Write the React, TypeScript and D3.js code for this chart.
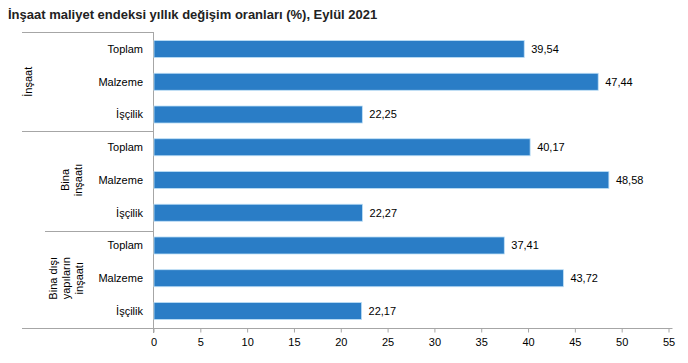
import React, { useRef, useEffect } from 'react';
import * as d3 from 'd3';

const categories = ['Toplam', 'Malzeme', 'İşçilik'];
const groups = [['İnşaat'], ['Bina', 'inşaatı'], ['Bina dışı', 'yapıların', 'inşaatı']];
const insaat = [39.54, 47.44, 22.25];
const binaInsaati = [40.17, 48.58, 22.27];
const binaDisi = [37.41, 43.72, 22.17];
const xTicks = [0, 5, 10, 15, 20, 25, 30, 35, 40, 45, 50, 55];

const App = () => {
    const ref = useRef(null);

    useEffect(() => {
        const svg = d3.select(ref.current);
        svg.selectAll('*').remove();

        const left = 153, right = 668, top = 32, bottom = 328;
        const font = 'Liberation Sans, Arial, sans-serif';

        const rows = [insaat, binaInsaati, binaDisi].flatMap((vals, g) =>
            vals.map((v, i) => ({ key: g + '-' + i, g, label: categories[i], value: v })));

        const x = d3.scaleLinear().domain([0, 55]).range([left, right]);
        const y = d3.scaleBand().domain(rows.map(d => d.key)).range([top, bottom]).paddingInner(0.48).paddingOuter(0.26);

        svg.append('text')
            .attr('x', 8).attr('y', 19)
            .attr('font-family', font).attr('font-size', 13).attr('font-weight', 'bold')
            .attr('fill', '#222')
            .text('İnşaat maliyet endeksi yıllık değişim oranları (%), Eylül 2021');

        const grey = '#a6a6a6';
        // frame lines at left
        svg.append('line').attr('x1', 22).attr('x2', left).attr('y1', top + 0.5).attr('y2', top + 0.5).attr('stroke', grey);
        svg.append('line').attr('x1', 22).attr('x2', left).attr('y1', 131.5).attr('y2', 131.5).attr('stroke', grey);
        svg.append('line').attr('x1', 45).attr('x2', left).attr('y1', 231.5).attr('y2', 231.5).attr('stroke', grey);
        svg.append('line').attr('x1', 22).attr('x2', left).attr('y1', bottom + 0.5).attr('y2', bottom + 0.5).attr('stroke', grey);

        const xAxis = svg.append('g')
            .attr('transform', `translate(0.5, ${bottom + 0.5})`)
            .call(d3.axisBottom(x).tickValues(xTicks).tickSizeInner(4).tickSizeOuter(0).tickPadding(6));
        xAxis.select('.domain').attr('stroke', grey).attr('d', `M${left - 0.5},0H${right + 4}`);
        xAxis.selectAll('.tick line').attr('stroke', grey);
        xAxis.selectAll('.tick text').attr('font-family', font).attr('font-size', 11).attr('fill', '#000');

        svg.append('line').attr('x1', left + 0.5).attr('x2', left + 0.5).attr('y1', top).attr('y2', bottom + 5).attr('stroke', grey);

        svg.selectAll('.bar')
            .data(rows)
            .enter()
            .append('rect')
            .attr('x', left + 1)
            .attr('y', d => y(d.key))
            .attr('width', d => x(d.value) - left)
            .attr('height', y.bandwidth())
            .attr('fill', '#2a7dc6')
            .attr('stroke', '#bfe0f7')
            .attr('stroke-width', 0.8);

        svg.selectAll('.val')
            .data(rows)
            .enter()
            .append('text')
            .attr('x', d => x(d.value) + 8)
            .attr('y', d => y(d.key) + y.bandwidth() / 2)
            .attr('dy', '0.35em')
            .attr('font-family', font).attr('font-size', 11)
            .text(d => d.value.toFixed(2).replace('.', ','));

        svg.selectAll('.cat')
            .data(rows)
            .enter()
            .append('text')
            .attr('x', 143)
            .attr('y', d => y(d.key) + y.bandwidth() / 2)
            .attr('dy', '0.35em')
            .attr('text-anchor', 'end')
            .attr('font-family', font).attr('font-size', 11)
            .text(d => d.label);

        const groupX = [28, 72, 66];
        groups.forEach((lines, g) => {
            const keys = rows.filter(r => r.g === g).map(r => r.key);
            const cy = (y(keys[0]) + y(keys[2]) + y.bandwidth()) / 2;
            const t = svg.append('text')
                .attr('transform', `translate(${groupX[g]}, ${cy}) rotate(-90)`)
                .attr('text-anchor', 'middle')
                .attr('font-family', font).attr('font-size', 11);
            lines.forEach((ln, i) => {
                t.append('tspan')
                    .attr('x', 0)
                    .attr('y', (i - (lines.length - 1) / 2) * 13)
                    .attr('dy', '0.35em')
                    .text(ln);
            });
        });
    }, []);

    return <svg ref={ref} width={688} height={363} style={{ position: 'absolute', left: 0, top: 0, background: '#fff' }}></svg>;
};

export default App;
